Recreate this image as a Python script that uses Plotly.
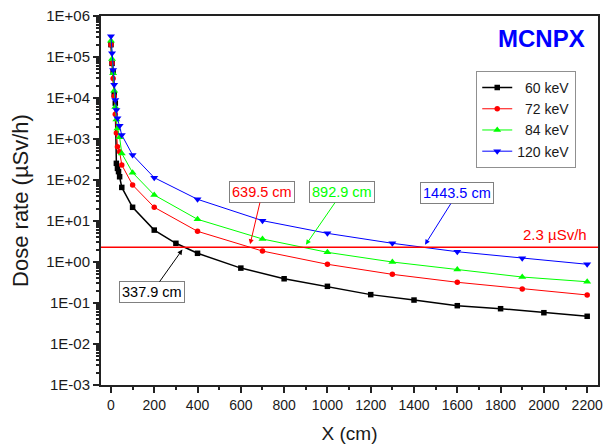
import math
import plotly.graph_objects as go

# ---------------- data ----------------
x_60 = [0, 5, 10, 15, 20, 25, 30, 35, 40, 50, 100, 200, 300, 400, 600, 800,
        1000, 1200, 1400, 1600, 1800, 2000, 2200]
y_60 = [2.0e5, 7.0e4, 4.4e4, 1.2e4, 7.5e3, 255, 192, 160, 120, 66, 21.6, 6.0,
        2.86, 1.63, 0.71, 0.39, 0.255, 0.16, 0.118, 0.086, 0.0726, 0.058, 0.0474]

x_other = [0, 5, 10, 15, 20, 25, 30, 40, 50, 100, 200, 400, 700, 1000, 1300,
           1600, 1900, 2200]
y_72 = [2.0e5, 7.0e4, 3.0e4, 1.1e4, 4.0e3, 1.4e3, 650, 490, 233, 75.5, 21.6,
        5.6, 1.85, 0.88, 0.50, 0.32, 0.22, 0.157]
y_84 = [2.5e5, 9.0e4, 4.0e4, 1.5e4, 6.0e3, 3.0e3, 1.8e3, 1.1e3, 446, 151, 43,
        11.0, 3.64, 1.72, 1.0, 0.66, 0.43, 0.33]
y_120 = [3.2e5, 1.24e5, 4.8e4, 2.1e4, 8.9e3, 5.1e3, 3.2e3, 2.1e3, 1.25e3, 407,
         114, 33.8, 10.2, 5.0, 2.86, 1.78, 1.23, 0.88]

series_names = ["\u200760 keV", "\u200772 keV", "\u200784 keV", "120 keV"]
series_colors = ["#000000", "#FF0000", "#00FF00", "#0000FF"]
series_symbols = ["square", "circle", "triangle-up", "triangle-down"]

limit_value = 2.3
limit_label = "2.3 \u00b5Sv/h"
crossing_x = [337.9, 639.5, 892.9, 1443.5]
crossing_labels = ["337.9 cm", "639.5 cm", "892.9 cm", "1443.5 cm"]

x_ticks = [0, 200, 400, 600, 800, 1000, 1200, 1400, 1600, 1800, 2000, 2200]
y_tick_exps = [-3, -2, -1, 0, 1, 2, 3, 4, 5, 6]
y_tick_labels = ["1E-03", "1E-02", "1E-01", "1E+00", "1E+01", "1E+02",
                 "1E+03", "1E+04", "1E+05", "1E+06"]

# ---------------- figure ----------------
FONT = "Liberation Sans, Arial, sans-serif"
fig = go.Figure()

xs = [x_60, x_other, x_other, x_other]
ys = [y_60, y_72, y_84, y_120]
for i in range(4):
    fig.add_trace(go.Scatter(
        x=xs[i], y=ys[i], mode="lines+markers", name=series_names[i],
        line=dict(color=series_colors[i], width=1.5 if i == 0 else 1),
        marker=dict(symbol=series_symbols[i], color=series_colors[i],
                    size=5.5 if i < 2 else 7),
    ))

# threshold line
fig.add_shape(type="line", xref="paper", x0=0, x1=1, yref="y",
              y0=limit_value, y1=limit_value,
              line=dict(color="#FF0000", width=1.5))

fig.add_annotation(xref="paper", x=0.982, yref="y", y=math.log10(limit_value),
                   text=limit_label, showarrow=False, xanchor="right",
                   yanchor="bottom", yshift=2,
                   font=dict(family=FONT, size=15, color="#FF0000"))

# crossing annotations
offsets = [(-32, 45), (13, -55), (38, -55), (34, -54)]
for i in range(4):
    fig.add_annotation(
        x=crossing_x[i], y=math.log10(limit_value), text=crossing_labels[i],
        showarrow=True, arrowhead=2, arrowsize=1, arrowwidth=1,
        arrowcolor=series_colors[i], standoff=3,
        ax=offsets[i][0], ay=offsets[i][1],
        bordercolor="#808080", borderwidth=1, borderpad=2, bgcolor="white",
        font=dict(family=FONT, size=14.5, color=series_colors[i]),
    )

fig.add_annotation(xref="paper", yref="paper", x=0.978, y=0.940,
                   text="<b>MCNPX</b>", showarrow=False, xanchor="right",
                   yanchor="middle",
                   font=dict(family=FONT, size=24, color="#0000FF"))

# minor tick positions: 2..9 within each decade of the axis
y_minor_vals = [m * 10.0 ** e for e in y_tick_exps[:-1] for m in range(2, 10)]

# the page body adds an 8px offset; compensate in size and margins
fig.update_layout(
    width=603, height=437,
    margin=dict(l=93, r=13, t=8, b=60),
    paper_bgcolor="white", plot_bgcolor="white",
    font=dict(family=FONT, size=14, color="#1a1a1a"),
    showlegend=True,
    legend=dict(x=0.755, y=0.851, xanchor="left", yanchor="top",
                bordercolor="#909090", borderwidth=1, bgcolor="white",
                font=dict(family=FONT, size=14, color="#1a1a1a"),
                itemwidth=30, tracegroupgap=0),
)

fig.update_xaxes(
    range=[-46, 2250], tickmode="array", tickvals=x_ticks,
    ticks="outside", ticklen=6, tickwidth=1.5, tickcolor="#222",
    showline=True, linewidth=2, linecolor="#222", mirror=True,
    showgrid=False, zeroline=False, automargin=False,
    ticklabeloverflow="allow",
    minor=dict(ticks="outside", ticklen=3, dtick=100, tickcolor="#222",
               showgrid=False),
    tickfont=dict(family=FONT, size=14),
    title=dict(text="X (cm)", font=dict(family=FONT, size=19)),
)
fig.update_yaxes(
    type="log", range=[-3, 6], tickmode="array",
    tickvals=[10.0 ** e for e in y_tick_exps], ticktext=y_tick_labels,
    ticks="outside", ticklen=6, tickwidth=1.5, tickcolor="#222",
    showline=True, linewidth=2, linecolor="#222", mirror=True,
    showgrid=False, zeroline=False, automargin=False,
    ticklabeloverflow="allow",
    minor=dict(ticks="outside", ticklen=3, tickmode="array",
               tickvals=y_minor_vals, tickcolor="#222", showgrid=False),
    tickfont=dict(family=FONT, size=15),
    title=dict(text="Dose rate (\u00b5Sv/h)", font=dict(family=FONT, size=22)),
)

fig.write_html("out.html")
